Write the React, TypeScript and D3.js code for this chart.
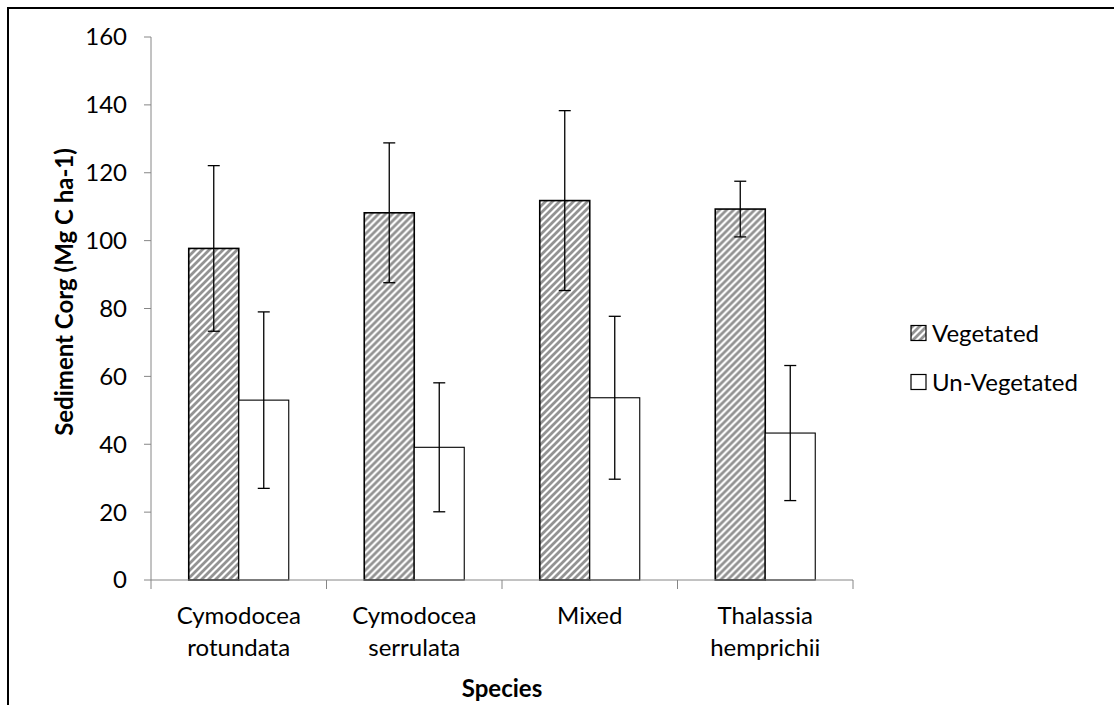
import React from "react";
import * as d3 from "d3";

const categories: string[][] = [
  ["Cymodocea", "rotundata"],
  ["Cymodocea", "serrulata"],
  ["Mixed"],
  ["Thalassia", "hemprichii"],
];
const seriesNames = ["Vegetated", "Un-Vegetated"];
const vegetated = [97.7, 108.2, 111.8, 109.3];
const vegetatedErr = [24.4, 20.6, 26.5, 8.2];
const unVegetated = [53.0, 39.1, 53.7, 43.3];
const unVegetatedErr = [26.0, 19.0, 24.0, 19.9];
const yTicks = [0, 20, 40, 60, 80, 100, 120, 140, 160];

const W = 1114;
const H = 705;
const plot = { left: 151, right: 853, top: 37, bottom: 580 };
const FONT = "Lato, 'Open Sans', sans-serif";

export default function App() {
  const y = d3.scaleLinear().domain([0, 160]).range([plot.bottom, plot.top]);
  const x = d3
    .scaleBand<number>()
    .domain(categories.map((_, i) => i))
    .range([plot.left, plot.right])
    .paddingInner(0)
    .paddingOuter(0);
  const bw = x.bandwidth();
  const barW = 50;
  const sub = d3
    .scaleBand<number>()
    .domain([0, 1])
    .range([bw / 2 - barW, bw / 2 + barW]);

  const series = [
    { vals: vegetated, errs: vegetatedErr, fill: "url(#hatch)", sw: 1.6 },
    { vals: unVegetated, errs: unVegetatedErr, fill: "#ffffff", sw: 1.1 },
  ];
  const capW = 12;
  const axisColor = "#868686";

  return (
    <svg
      width={W}
      height={H}
      style={{ position: "absolute", left: 0, top: 0, background: "#fff" }}
    >
      <defs>
        <pattern id="hatch" patternUnits="userSpaceOnUse" width={7} height={7}>
          <rect width={7} height={7} fill="#ffffff" />
          <path
            d="M-1.5,1.5 L1.5,-1.5 M0,7 L7,0 M5.5,8.5 L8.5,5.5"
            stroke="#939393"
            strokeWidth={2.8}
          />
        </pattern>
      </defs>
      <rect x={0} y={0} width={W} height={H} fill="#fff" />
      {/* outer frame (extends past viewport) */}
      <path d={`M8,${H + 5} L8,8 L${W + 5},8`} fill="none" stroke="#000" strokeWidth={2} />

      {/* y axis */}
      <line x1={plot.left} x2={plot.left} y1={plot.top} y2={plot.bottom} stroke={axisColor} strokeWidth={1} />
      {yTicks.map((t) => (
        <g key={t}>
          <line x1={plot.left - 7} x2={plot.left} y1={y(t)} y2={y(t)} stroke={axisColor} strokeWidth={1} />
          <text
            x={127}
            y={y(t)}
            dy="0.35em"
            textAnchor="end"
            fontFamily={FONT}
            fontSize={24}
            fill="#000"
          >
            {t}
          </text>
        </g>
      ))}

      {/* bars */}
      {categories.map((_, i) => (
        <g key={i} transform={`translate(${x(i)},0)`}>
          {series.map((s, j) => {
            const bx = sub(j)!;
            const v = s.vals[i];
            return (
              <rect
                key={j}
                x={bx}
                y={y(v)}
                width={sub.bandwidth()}
                height={y(0) - y(v)}
                fill={s.fill}
                stroke="#000"
                strokeWidth={s.sw}
              />
            );
          })}
        </g>
      ))}

      {/* x axis */}
      <line x1={plot.left} x2={plot.right} y1={plot.bottom} y2={plot.bottom} stroke={axisColor} strokeWidth={1} />
      {[...categories.map((_, i) => x(i)!), plot.right].map((px, i) => (
        <line key={i} x1={px} x2={px} y1={plot.bottom} y2={plot.bottom + 9} stroke={axisColor} strokeWidth={1} />
      ))}

      {/* error bars */}
      {categories.map((_, i) => (
        <g key={i} transform={`translate(${x(i)},0)`}>
          {series.map((s, j) => {
            const cx = sub(j)! + sub.bandwidth() / 2;
            const v = s.vals[i];
            const e = s.errs[i];
            return (
              <g key={j} stroke="#000" strokeWidth={1.3}>
                <line x1={cx} x2={cx} y1={y(v + e)} y2={y(v - e)} />
                <line x1={cx - capW / 2} x2={cx + capW / 2} y1={y(v + e)} y2={y(v + e)} />
                <line x1={cx - capW / 2} x2={cx + capW / 2} y1={y(v - e)} y2={y(v - e)} />
              </g>
            );
          })}
        </g>
      ))}

      {/* category labels */}
      {categories.map((lines, i) => (
        <text
          key={i}
          x={x(i)! + bw / 2}
          textAnchor="middle"
          fontFamily={FONT}
          fontSize={24}
          fill="#000"
        >
          {lines.map((l, k) => (
            <tspan key={k} x={x(i)! + bw / 2} y={624 + k * 32}>
              {l}
            </tspan>
          ))}
        </text>
      ))}

      {/* axis titles */}
      <text
        x={(plot.left + plot.right) / 2}
        y={697}
        textAnchor="middle"
        fontFamily={FONT}
        fontWeight="bold"
        fontSize={24}
        fill="#000"
      >
        Species
      </text>
      <text
        transform={`translate(73,292) rotate(-90)`}
        textAnchor="middle"
        fontFamily={FONT}
        fontWeight="bold"
        fontSize={24}
        fill="#000"
      >
        Sediment Corg (Mg C ha-1)
      </text>

      {/* legend */}
      {seriesNames.map((name, j) => {
        const cy = 333 + j * 49;
        return (
          <g key={name}>
            <rect
              x={911}
              y={cy - 7.5}
              width={15}
              height={15}
              fill={series[j].fill}
              stroke="#000"
              strokeWidth={1.2}
            />
            <text x={932} y={cy} dy="0.36em" fontFamily={FONT} fontSize={24} fill="#000">
              {name}
            </text>
          </g>
        );
      })}
    </svg>
  );
}
